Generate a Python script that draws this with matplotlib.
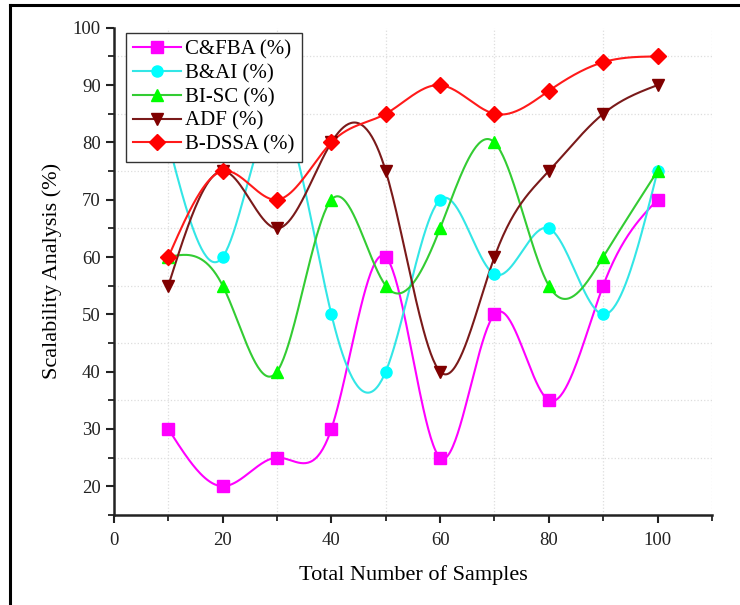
import numpy as np
import matplotlib
matplotlib.use("Agg")
from matplotlib import pyplot as plt
from matplotlib.ticker import MultipleLocator
from matplotlib.lines import Line2D

samples = [10, 20, 30, 40, 50, 60, 70, 80, 90, 100]
cfba = [30, 20, 25, 30, 60, 25, 50, 35, 55, 70]
bai = [80, 60, 85, 50, 40, 70, 57, 65, 50, 75]
bisc = [60, 55, 40, 70, 55, 65, 80, 55, 60, 75]
adf = [55, 75, 65, 80, 75, 40, 60, 75, 85, 90]
bdssa = [60, 75, 70, 80, 85, 90, 85, 89, 94, 95]

series = [
    ("C&FBA (%)", cfba, "#ff00ff", "#ff00ff", "s"),
    ("B&AI (%)", bai, "#33e6e6", "#00ffff", "o"),
    ("BI-SC (%)", bisc, "#33cc33", "#00ff00", "^"),
    ("ADF (%)", adf, "#7a1a1a", "#800000", "v"),
    ("B-DSSA (%)", bdssa, "#ff1a1a", "#ff0000", "D"),
]


def natural_spline(x, y, n=400):
    x = np.asarray(x, float)
    y = np.asarray(y, float)
    k = len(x)
    h = np.diff(x)
    A = np.zeros((k, k))
    b = np.zeros(k)
    A[0, 0] = A[-1, -1] = 1
    for i in range(1, k - 1):
        A[i, i - 1] = h[i - 1]
        A[i, i] = 2 * (h[i - 1] + h[i])
        A[i, i + 1] = h[i]
        b[i] = 6 * ((y[i + 1] - y[i]) / h[i] - (y[i] - y[i - 1]) / h[i - 1])
    m = np.linalg.solve(A, b)
    xs = np.linspace(x[0], x[-1], n)
    idx = np.clip(np.searchsorted(x, xs) - 1, 0, k - 2)
    x0, x1 = x[idx], x[idx + 1]
    hh = x1 - x0
    t0, t1 = x1 - xs, xs - x0
    ys = (m[idx] * t0 ** 3 + m[idx + 1] * t1 ** 3) / (6 * hh) \
        + (y[idx] / hh - m[idx] * hh / 6) * t0 \
        + (y[idx + 1] / hh - m[idx + 1] * hh / 6) * t1
    return xs, ys


plt.rcParams["font.family"] = ["Liberation Serif", "DejaVu Serif"]

fig = plt.figure(figsize=(7.4, 6.05), dpi=100)
ax = fig.add_axes([0.154, 0.149, 0.808, 0.805])

handles = []
for label, vals, lc, mc, mk in series:
    xs, ys = natural_spline(samples, vals)
    ax.plot(xs, ys, color=lc, lw=1.5, zorder=2)
    ax.plot(samples, vals, linestyle="none", marker=mk, color=mc,
            markersize=8, zorder=3)
    handles.append(Line2D([], [], color=lc, lw=1.5, marker=mk,
                          markerfacecolor=mc, markeredgecolor=mc,
                          markersize=8, label=label))

ax.set_xlim(0, 110)
ax.set_ylim(15, 100)
ax.xaxis.set_major_locator(MultipleLocator(20))
ax.xaxis.set_minor_locator(MultipleLocator(10))
ax.set_yticks(range(20, 101, 10))
ax.set_yticks(np.arange(15, 100, 10), minor=True)
ax.grid(which="minor", color="#dddddd", linestyle=":", lw=0.9)
ax.grid(which="major", visible=False)

for s in ["top", "right"]:
    ax.spines[s].set_visible(False)
for s in ["left", "bottom"]:
    ax.spines[s].set_linewidth(1.8)
    ax.spines[s].set_color("#222222")
ax.tick_params(which="major", length=6, width=1.5, labelsize=13.5, colors="#222222")
ax.tick_params(which="minor", length=4, width=1.3, colors="#222222")
ax.tick_params(axis="x", which="major", pad=6)

ax.set_xlabel("Total Number of Samples", fontsize=16, labelpad=12)
ax.set_ylabel("Scalability Analysis (%)", fontsize=16, labelpad=8)

leg = ax.legend(handles=handles, loc="upper left", bbox_to_anchor=(0.02, 0.99),
                borderaxespad=0, fontsize=15, frameon=True, fancybox=False,
                handlelength=2.3, handletextpad=0.2, labelspacing=0.2,
                borderpad=0.35)
leg.get_frame().set_edgecolor("#333333")
leg.get_frame().set_linewidth(1.0)
leg.get_frame().set_alpha(1.0)
leg.set_zorder(10)

# outer frame (top and left edges visible)
fig.add_artist(Line2D([10 / 740, 1], [1 - 5 / 605, 1 - 5 / 605],
                      transform=fig.transFigure, color="black", lw=2.2))
fig.add_artist(Line2D([10 / 740, 10 / 740], [0, 1 - 5 / 605],
                      transform=fig.transFigure, color="black", lw=2.2))

fig.savefig("out.png", dpi=100)
